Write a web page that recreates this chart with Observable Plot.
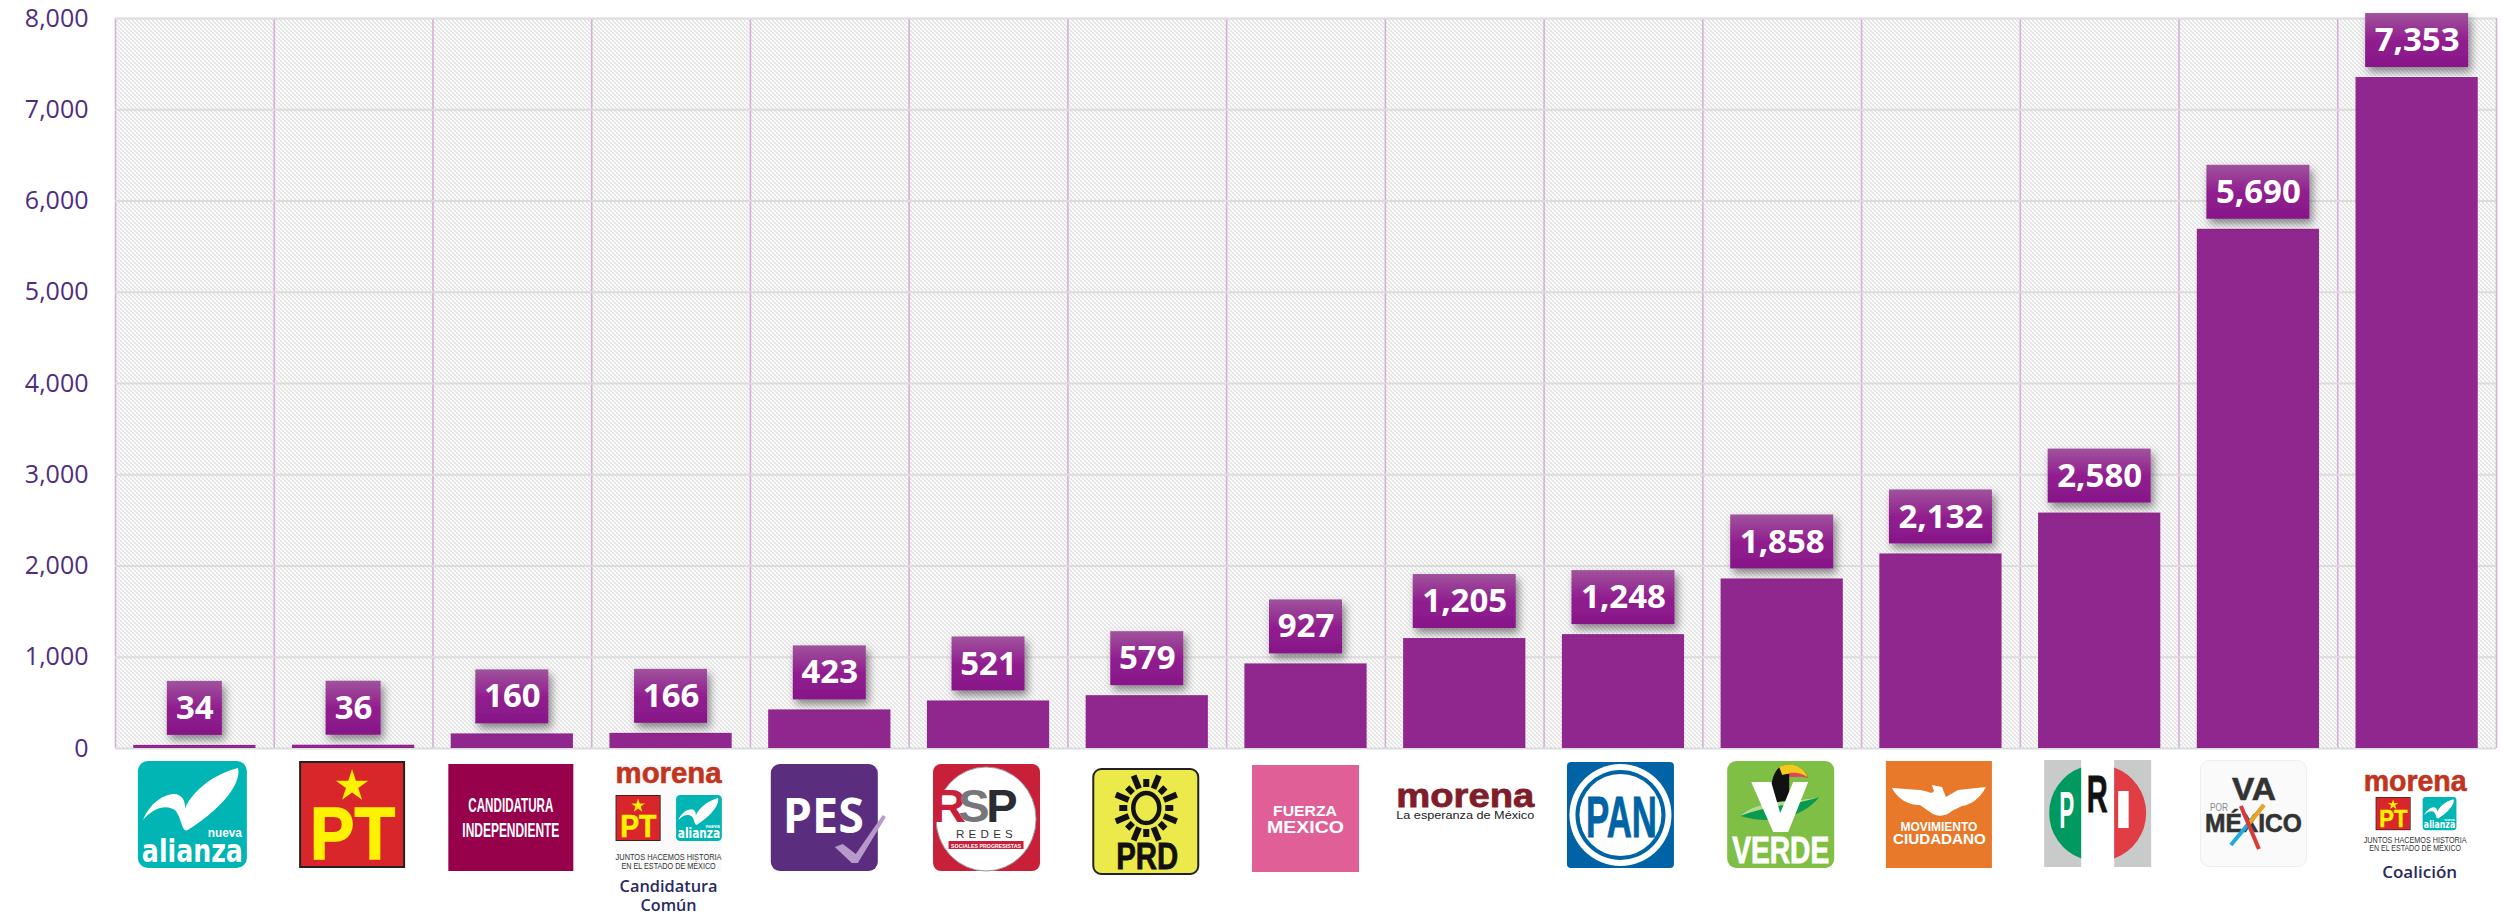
<!DOCTYPE html>
<html><head><meta charset="utf-8">
<script src="https://cdn.jsdelivr.net/npm/d3@7"></script>
<script src="https://cdn.jsdelivr.net/npm/@observablehq/plot@0.6"></script>
<style>html,body{margin:0;padding:0;background:#fff}svg{display:block}</style>
</head><body><div id="chart"></div>
<script>
const categories = ["Nueva Alianza","PT","Candidatura Independiente","Candidatura Común","PES","RSP","PRD","Fuerza México","Morena","PAN","Verde","Movimiento Ciudadano","PRI","Va por México","Coalición"];
const votes = [34,36,160,166,423,521,579,927,1205,1248,1858,2132,2580,5690,7353];
const yTicks = [0,1000,2000,3000,4000,5000,6000,7000,8000];

const W = 2503, H = 915, ML = 115, MR = 7, MT = 18, MB = 167;
const step = (W - ML - MR) / categories.length;
const rows = categories.map((party, i) => ({party, votes: votes[i]}));
const fmt = d3.format(",");
const boxW = v => ({2: 55, 3: 73, 5: 103})[fmt(v).length];

const NARROW = "'Liberation Sans Narrow','Liberation Sans',sans-serif", SANS = "'Liberation Sans',sans-serif", OPEN = "'Open Sans',sans-serif", DEJA = "'DejaVu Sans',sans-serif";
function T(x, y, s, o = {}) {
  const {size = 12, fill = "#fff", weight = 700, len, anchor = "start", family = SANS, spacing, heavy} = o;
  return `<text x="${x}" y="${y}" font-size="${size}" fill="${fill}" font-weight="${weight}" font-family="${family}" text-anchor="${anchor}"` +
    (len ? ` textLength="${len}" lengthAdjust="spacingAndGlyphs"` : "") + (spacing ? ` letter-spacing="${spacing}"` : "") +
    (heavy ? ` stroke="${fill}" stroke-width="${heavy}"` : "") + `>${s}</text>`;
}
function star(cx, cy, r, fill) {
  const p = d3.range(10).map(i => { const a = -Math.PI / 2 + i * Math.PI / 5, q = i % 2 ? r * 0.38 : r; return `${cx + q * Math.cos(a)},${cy + q * Math.sin(a)}`; });
  return `<polygon points="${p.join(" ")}" fill="${fill}"/>`;
}
const G = (x, y, sx, sy, s) => `<g transform="translate(${x},${y}) scale(${sx},${sy})">${s}</g>`;

const alianza = () => `<rect width="109" height="107" rx="10" fill="#00b5b3"/>
  <path d="M5,59 C12,42 26,33 36,33 C44,33 48,40 47,48 C52,34 72,14 100,7 C104,20 88,45 50,69 C44,72 44,58 38,50 C30,43 16,46 5,59Z" fill="#fff"/>` +
  T(104, 76, "nueva", {size: 12, anchor: "end", len: 34, family: NARROW}) +
  T(4, 101, "alianza", {size: 32, len: 101, family: DEJA});
const pt = () => `<rect width="106" height="107" fill="#222"/><rect x="2" y="2" width="102" height="103" fill="#d9262b"/>` +
  star(53, 25, 17, "#fff200") + T(11, 98, "PT", {size: 75, fill: "#fff200", len: 85, family: SANS, heavy: 1.5});
const morenaJ = (col, size, len) => T(0, 18, "morena", {size, fill: col, len, family: SANS, heavy: .6});
const juntos = (y1, y2, w) => T(w / 2, y1, "JUNTOS HACEMOS HISTORIA", {size: 8.5, fill: "#333", weight: 400, anchor: "middle", len: w, family: NARROW}) +
  T(w / 2, y2, "EN EL ESTADO DE MÉXICO", {size: 8.5, fill: "#333", weight: 400, anchor: "middle", len: w * .89, family: NARROW});
const CAP = "#2b2a5e";

const logos = [
  {off: -2, top: 761, svg: alianza()},
  {off: -1, top: 761, w: 106, svg: pt()},
  {off: -1, top: 764, svg: `<rect width="125" height="107" fill="#97004b"/>` +
    T(62.5, 48, "CANDIDATURA", {size: 21, anchor: "middle", len: 85, family: NARROW}) +
    T(62.5, 73, "INDEPENDIENTE", {size: 21, anchor: "middle", len: 97, family: NARROW}), w: 125},
  {off: -2, top: 765, w: 106, svg: `<rect width="106" height="107" fill="#fafafa"/>` + morenaJ("#c1341e", 29, 106) +
    G(0, 30, .425, .43, pt()) + G(60.5, 30, .42, .43, alianza()) + juntos(95, 104, 106) +
    T(53, 127, "Candidatura", {size: 16.5, fill: CAP, weight: 600, anchor: "middle", len: 98, family: OPEN}) +
    T(53, 146, "Común", {size: 16.5, fill: CAP, weight: 600, anchor: "middle", len: 56, family: OPEN})},
  {off: -5, top: 764, w: 107, svg: `<rect width="107" height="107" rx="9" fill="#5a2d7f"/>` +
    T(12, 69, "PES", {size: 49, len: 81, weight: 700, family: OPEN}) +
    `<path d="M64,83 L72,80 L85,90 L112,51 L115,53 L87,99 L81,99Z" fill="#b79ac9"/>`},
  {off: -1.5, top: 764, w: 107, svg: `<rect width="107" height="107" rx="8" fill="#c9203a"/><ellipse cx="53" cy="55" rx="50" ry="52" fill="#fff" stroke="#999" stroke-width="1"/>` +
    `<text y="58" font-size="47" font-weight="700" font-family="${SANS}"><tspan x="16" fill="#c9203a">R</tspan><tspan x="69" fill="#2a2e33">P</tspan><tspan x="41" fill="#77777b">S</tspan></text>` +
    T(23, 73.5, "REDES", {size: 11, fill: "#333", weight: 400, len: 61, spacing: 4}) +
    `<rect x="15.5" y="77" width="75" height="8" fill="#c9203a"/>` + T(53, 83.5, "SOCIALES PROGRESISTAS", {size: 6, anchor: "middle", len: 70})},
  {off: -1, top: 768, w: 107, svg: `<rect x="1" y="1" width="105" height="105" rx="8" fill="#ece94a" stroke="#222" stroke-width="2"/><ellipse cx="54" cy="40" rx="13" ry="15" fill="none" stroke="#111" stroke-width="4.5"/>` +
    d3.range(16).map(i => { const a = i * Math.PI / 8; const c = Math.cos(a), s = Math.sin(a);
      return `<line x1="${54 + 19 * c}" y1="${40 + 21 * s}" x2="${54 + (i % 2 ? 33 : 27) * c}" y2="${40 + (i % 2 ? 35 : 29) * s}" stroke="#111" stroke-width="6"/>`; }).join("") +
    T(24, 101, "PRD", {size: 36, fill: "#111", len: 62, family: NARROW, heavy: .8})},
  {off: 0, top: 765, w: 107, svg: `<rect width="107" height="107" fill="#e05f96"/>` +
    T(21, 51, "FUERZA", {size: 15, len: 64, family: NARROW}) + T(15, 68, "MEXICO", {size: 16, len: 77, family: NARROW})},
  {off: 1, top: 786, w: 138, svg: T(0, 21, "morena", {size: 34, fill: "#7f1d2b", len: 138, heavy: .8}) +
    T(0, 33, "La esperanza de México", {size: 11, fill: "#222", weight: 400, len: 138, family: NARROW})},
  {off: -2.5, top: 762, w: 107, svg: `<rect width="107" height="106" rx="4" fill="#0063a5"/><circle cx="53.5" cy="53" r="51" fill="#fff"/><circle cx="53.5" cy="53" r="45" fill="#0063a5"/><circle cx="53.5" cy="53" r="41" fill="#fff"/>` +
    T(19, 75, "PAN", {size: 58, fill: "#0063a5", len: 71, family: NARROW, heavy: .8})},
  {off: -1, top: 761, w: 107, svg: `<rect width="107" height="107" rx="9" fill="#7fbf45"/>
    <path d="M44,30 C44,14 50,5 58,4 C68,3 78,8 81,17 C72,13 66,14 62,16 L62,44 L44,44Z" fill="#111"/>
    <path d="M52,6 C60,1 76,3 81,17 C72,12 62,12 55,14Z" fill="#f5c81e"/><path d="M62,12 C68,11 76,12 81,17 C74,15 68,16 62,16Z" fill="#e0455a"/>
    <path d="M13,55 C30,38 62,42 92,36 C80,52 50,66 13,55Z" fill="#0a9a4f"/><path d="M13,55 C30,38 62,42 92,36 C70,44 40,44 13,55Z" fill="#b5d98a"/>
    <path d="M24,21 L44,21 L53,52 L66,21 L81,21 L61,71 L46,71Z" fill="#fff"/>` + T(5, 102, "VERDE", {size: 36, len: 97, heavy: .8})},
  {off: -1.5, top: 761, w: 106, svg: `<rect width="106" height="107" fill="#e8792a"/>
    <path d="M6,27 L34,29 C42,30 46,34 48,30 L46,24 L56,26 L60,36 L72,29 L100,26 C94,38 84,44 76,45 L66,50 C60,56 50,56 44,51 L34,44 C22,44 12,38 6,27Z" fill="#fff"/>` +
    T(53, 70, "MOVIMIENTO", {size: 12.5, anchor: "middle", len: 77}) + T(53.5, 83, "CIUDADANO", {size: 15, anchor: "middle", len: 93})},
  {off: -1.5, top: 760, w: 107, svg: `<rect width="107" height="107" fill="#c9cbca"/><rect x="37" width="33" height="107" fill="#fff"/>
    <path d="M37,7.4 A48.5,48.5 0 0 0 37,98.6Z" fill="#009a61"/><path d="M70,7.4 A48.5,48.5 0 0 1 70,98.6Z" fill="#e03e44"/>` +
    T(22.5, 68, "P", {size: 52, anchor: "middle", len: 15, family: NARROW}) + T(53, 52, "R", {size: 52, fill: "#111", anchor: "middle", len: 21, family: NARROW, heavy: .8}) +
    `<rect x="74" y="31" width="10.5" height="37" fill="#fff"/>`},
  {off: -4.5, top: 760, w: 107, svg: `<rect x=".5" y=".5" width="106" height="106" rx="9" fill="#fafafa" stroke="#eee"/>` +
    T(32, 40, "VA", {size: 32, fill: "#333", len: 44, heavy: .6}) + T(10, 51, "POR", {size: 10, fill: "#888", weight: 400, len: 18}) +
    T(5, 72, "MÉXICO", {size: 26, fill: "#333", len: 97, heavy: .6}) +
    `<line x1="64" y1="45" x2="31" y2="85" stroke="#1fa9dd" stroke-width="4"/><line x1="64" y1="45" x2="48" y2="65" stroke="#f2a31b" stroke-width="4"/><line x1="41" y1="46" x2="59" y2="89" stroke="#d93a3a" stroke-width="4"/>`},
  {off: -1.5, top: 773, w: 103, svg: morenaJ("#c1341e", 29, 103) +
    G(12, 24, .33, .31, pt()) + G(59, 24, .31, .31, alianza()) + juntos(70, 78, 103) +
    T(56, 105, "Coalición", {size: 15.5, fill: CAP, weight: 600, anchor: "middle", len: 75, family: OPEN})}
];

const defsMark = () => {
  const g = document.createElementNS("http://www.w3.org/2000/svg", "g");
  g.innerHTML = `<defs>
    <pattern id="hatch" width="4" height="4" patternUnits="userSpaceOnUse" shape-rendering="crispEdges">
      <rect width="4" height="4" fill="#fff"/>
      ${d3.range(4).map(i => `<rect x="${i}" y="${i}" width="1" height="1" fill="${i % 2 ? "#d6d6d6" : "#b4b4b4"}"/>`).join("")}
    </pattern>
    <linearGradient id="boxGrad" x1="0" y1="0" x2="0" y2="1">
      <stop offset="0" stop-color="#a0539d"/><stop offset=".5" stop-color="#911f8f"/><stop offset="1" stop-color="#871688"/>
    </linearGradient>
    <filter id="boxShadow" x="-30%" y="-30%" width="160%" height="170%"><feDropShadow dx="3" dy="5" stdDeviation="4" flood-color="#000" flood-opacity=".45"/></filter>
  </defs>`;
  return g;
};
const boxMark = (index, scales) => {
  const g = d3.create("svg:g");
  const bw = scales.x.bandwidth();
  for (const r of rows) {
    const cx = scales.x(r.party) + bw / 2, w = boxW(r.votes);
    g.append("rect").attr("x", cx - w / 2).attr("y", scales.y(r.votes) - 64).attr("width", w).attr("height", 54)
      .attr("fill", "url(#boxGrad)").attr("filter", "url(#boxShadow)");
  }
  return g.node();
};
const logoMark = (index, scales) => {
  const g = d3.create("svg:g");
  const bw = scales.x.bandwidth();
  categories.forEach((c, i) => {
    const L = logos[i], w = L.w ?? 109;
    const cx = scales.x(c) + bw / 2 + L.off;
    g.append("g").attr("transform", `translate(${cx - w / 2},${L.top})`).html(L.svg);
  });
  return g.node();
};

const chart = Plot.plot({
  width: W, height: H, marginLeft: ML, marginRight: MR, marginTop: MT, marginBottom: MB,
  style: {fontFamily: "'Open Sans',sans-serif", background: "#fff", overflow: "visible"},
  x: {domain: categories, paddingInner: 0.23, paddingOuter: 0.115, round: false, axis: null},
  y: {domain: [0, 8000]},
  marks: [
    defsMark,
    Plot.frame({fill: "url(#hatch)", stroke: null}),
    Plot.ruleX(categories, {x: d => d, dx: -step / 2, stroke: "#d8afda", strokeWidth: 1.6}),
    Plot.ruleX([categories[categories.length - 1]], {x: d => d, dx: step / 2, stroke: "#d8afda", strokeWidth: 1.6}),
    Plot.ruleY(yTicks, {stroke: "#dcdcdc", strokeWidth: 2}),
    Plot.axisY({ticks: yTicks, tickFormat: fmt, tickSize: 0, tickPadding: 27, fontSize: 25, fill: "#4f2d7f", label: null}),
    Plot.barY(rows, {x: "party", y: "votes", fill: "#90278e"}),
    boxMark,
    Plot.text(rows, {x: "party", y: "votes", text: d => fmt(d.votes), dy: -37, fontSize: 33, fontWeight: 700, fill: "#fff", fontFamily: "'Open Sans',sans-serif"}),
    logoMark
  ]
});
document.getElementById("chart").append(chart);
</script></body></html>
